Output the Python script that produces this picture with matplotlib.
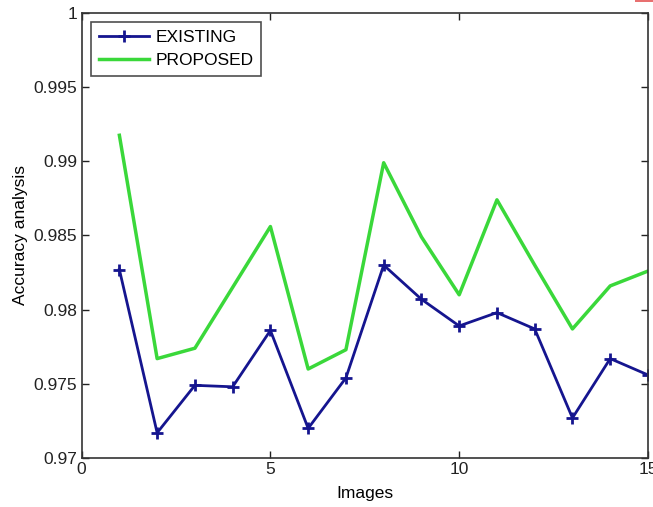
import matplotlib
matplotlib.use("Agg")
import matplotlib.pyplot as plt
from matplotlib.ticker import FixedLocator
from matplotlib.patches import Rectangle

images = list(range(1, 16))
existing = [0.9827, 0.9717, 0.9749, 0.9748, 0.9786, 0.9720, 0.9754, 0.9830,
            0.9807, 0.9789, 0.9798, 0.9787, 0.9727, 0.9767, 0.9756]
proposed = [0.99175, 0.9767, 0.9774, 0.9815, 0.9856, 0.9760, 0.9773, 0.9899,
            0.9849, 0.9810, 0.9874, 0.9830, 0.9787, 0.9816, 0.9826]
xticks = [0, 5, 10, 15]
yticks = [0.97, 0.975, 0.98, 0.985, 0.99, 0.995, 1]
ytick_labels = ["0.97", "0.975", "0.98", "0.985", "0.99", "0.995", "1"]

plt.rcParams['font.family'] = ['Liberation Sans', 'DejaVu Sans']

fig = plt.figure(figsize=(6.53, 5.07), dpi=100)
ax = fig.add_axes([0.125, 0.0966, 0.8673, 0.878])

ax.plot(images, existing, color='#15158f', lw=2, marker='+', ms=8.5, mew=2,
        label='EXISTING')
ax.plot(images, proposed, color='#3ad83a', lw=2.5, label='PROPOSED')

ax.set_xlim(0, 15)
ax.set_ylim(0.97, 1)
ax.xaxis.set_major_locator(FixedLocator(xticks))
ax.set_xticklabels([str(t) for t in xticks])
ax.yaxis.set_major_locator(FixedLocator(yticks))
ax.set_yticklabels(ytick_labels)
ax.tick_params(direction='in', length=5, width=1, top=True, right=True,
               labelsize=12.5, colors='#222222', pad=3)
for s in ax.spines.values():
    s.set_color('#333333')
    s.set_linewidth(1.2)

ax.set_xlabel('Images', fontsize=12.5, labelpad=6)
ax.set_ylabel('Accuracy analysis', fontsize=12.5, labelpad=4)

leg = ax.legend(loc='upper left', fontsize=12.5, frameon=True, fancybox=False,
                edgecolor='#222222', borderpad=0.45, handlelength=2.9,
                labelspacing=0.45, handletextpad=0.35, borderaxespad=0.55)
leg.get_frame().set_linewidth(1.2)

fig.patches.append(Rectangle((0.972, 0.996), 0.028, 0.004, transform=fig.transFigure,
                             facecolor='#e87070', edgecolor='none'))

fig.savefig('out.png', dpi=100)
